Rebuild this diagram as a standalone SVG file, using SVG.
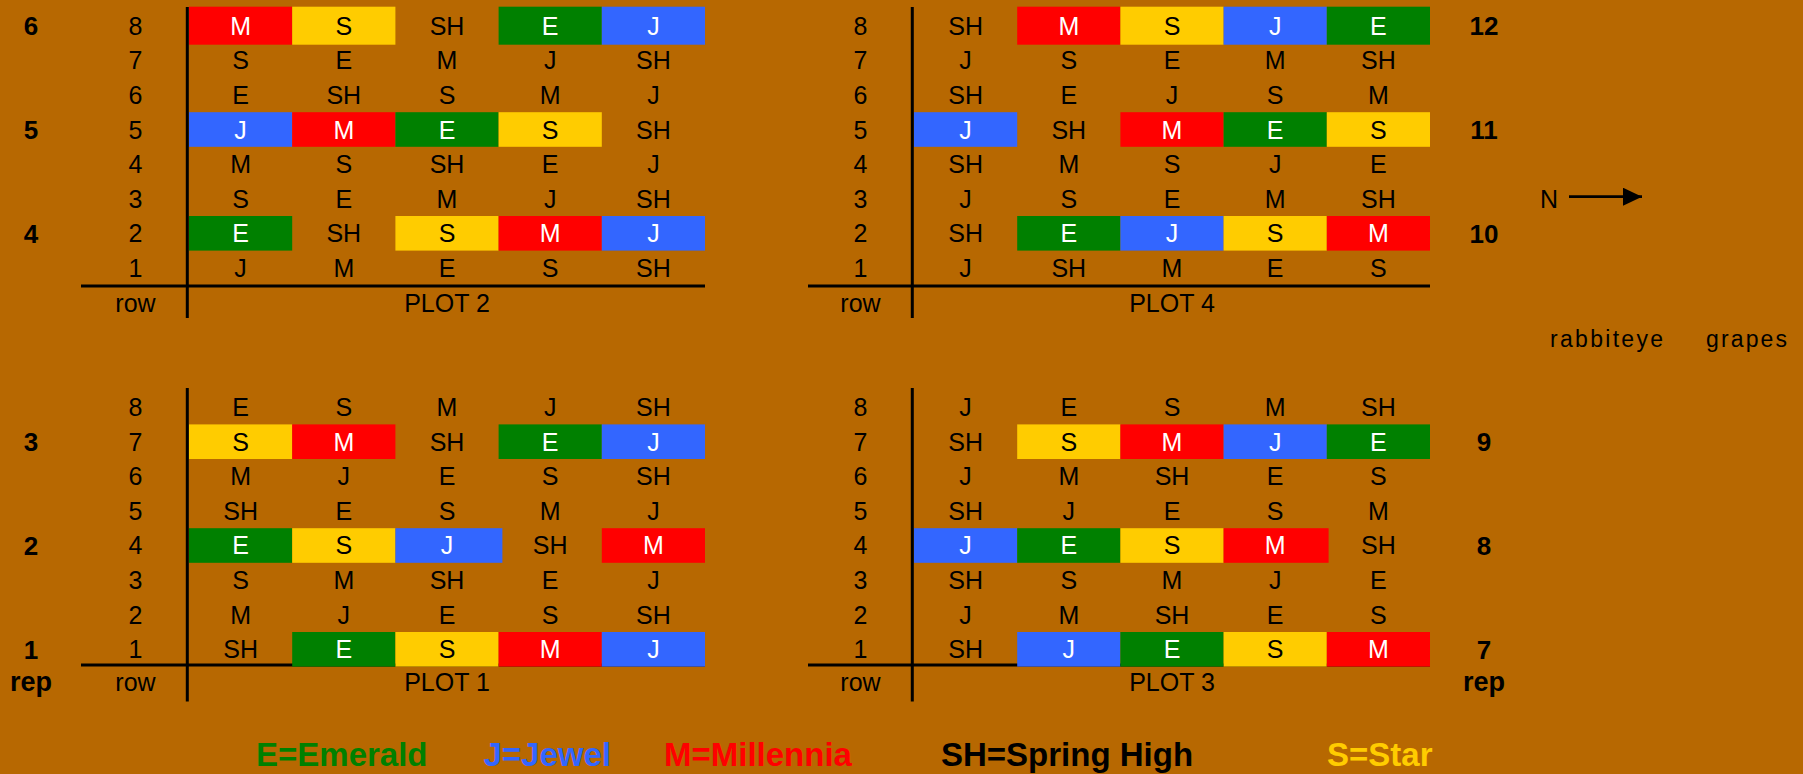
<svg xmlns="http://www.w3.org/2000/svg" width="1803" height="774" viewBox="0 0 1803 774">
<style>
.bg{fill:#B76801}
.ln{stroke:#000;stroke-width:3;fill:none}
.R{fill:#FF0000}.Y{fill:#FFCC00}.G{fill:#008000}.B{fill:#3366FF}
.tx{font-family:"Liberation Sans",Arial,sans-serif;font-size:25px;text-anchor:middle;fill:#000}
.w{fill:#fff}
.bd{font-weight:bold;font-size:26px}
.bd2{font-weight:bold;font-size:27px}
.lg{font-family:"Liberation Sans",Arial,sans-serif;font-size:33px;font-weight:bold}
</style>
<defs>
<marker id="ah" viewBox="0 0 10 10" refX="10" refY="5" markerWidth="19" markerHeight="18" markerUnits="userSpaceOnUse" orient="auto" preserveAspectRatio="none">
<path d="M0,0 L10,5 L0,10 z" fill="#000"/>
</marker>
</defs>
<rect class="bg" x="0" y="0" width="1803" height="774"/>

<g id="plot2">
<line class="ln" x1="187.3" y1="7" x2="187.3" y2="318"/>
<line class="ln" x1="81" y1="286" x2="705" y2="286"/>
<rect class="R" x="189" y="6.7" width="103.2" height="38"/>
<rect class="Y" x="292.2" y="6.7" width="103.2" height="38"/>
<rect class="G" x="498.6" y="6.7" width="103.2" height="38"/>
<rect class="B" x="601.8" y="6.7" width="103.2" height="38"/>
<rect class="B" x="189" y="112.2" width="103.2" height="34.6"/>
<rect class="R" x="292.2" y="112.2" width="103.2" height="34.6"/>
<rect class="G" x="395.4" y="112.2" width="103.2" height="34.6"/>
<rect class="Y" x="498.6" y="112.2" width="103.2" height="34.6"/>
<rect class="G" x="189" y="216" width="103.2" height="34.6"/>
<rect class="Y" x="395.4" y="216" width="103.2" height="34.6"/>
<rect class="R" x="498.6" y="216" width="103.2" height="34.6"/>
<rect class="B" x="601.8" y="216" width="103.2" height="34.6"/>
<g class="tx">
<text x="135.5" y="34.7">8</text><text x="135.5" y="69.3">7</text><text x="135.5" y="103.9">6</text><text x="135.5" y="138.5">5</text><text x="135.5" y="173.1">4</text><text x="135.5" y="207.7">3</text><text x="135.5" y="242.3">2</text><text x="135.5" y="276.9">1</text>
<text x="135.5" y="311.7">row</text><text x="447" y="311.7">PLOT 2</text>
<text class="bd" x="31" y="35">6</text><text class="bd" x="31" y="138.8">5</text><text class="bd" x="31" y="242.6">4</text>
<text class="w" x="240.6" y="34.7">M</text><text x="343.8" y="34.7">S</text><text x="447" y="34.7">SH</text><text class="w" x="550.2" y="34.7">E</text><text class="w" x="653.4" y="34.7">J</text>
<text x="240.6" y="69.3">S</text><text x="343.8" y="69.3">E</text><text x="447" y="69.3">M</text><text x="550.2" y="69.3">J</text><text x="653.4" y="69.3">SH</text>
<text x="240.6" y="103.9">E</text><text x="343.8" y="103.9">SH</text><text x="447" y="103.9">S</text><text x="550.2" y="103.9">M</text><text x="653.4" y="103.9">J</text>
<text class="w" x="240.6" y="138.5">J</text><text class="w" x="343.8" y="138.5">M</text><text class="w" x="447" y="138.5">E</text><text x="550.2" y="138.5">S</text><text x="653.4" y="138.5">SH</text>
<text x="240.6" y="173.1">M</text><text x="343.8" y="173.1">S</text><text x="447" y="173.1">SH</text><text x="550.2" y="173.1">E</text><text x="653.4" y="173.1">J</text>
<text x="240.6" y="207.7">S</text><text x="343.8" y="207.7">E</text><text x="447" y="207.7">M</text><text x="550.2" y="207.7">J</text><text x="653.4" y="207.7">SH</text>
<text class="w" x="240.6" y="242.3">E</text><text x="343.8" y="242.3">SH</text><text x="447" y="242.3">S</text><text class="w" x="550.2" y="242.3">M</text><text class="w" x="653.4" y="242.3">J</text>
<text x="240.6" y="276.9">J</text><text x="343.8" y="276.9">M</text><text x="447" y="276.9">E</text><text x="550.2" y="276.9">S</text><text x="653.4" y="276.9">SH</text>
</g>
</g>

<g id="plot4" transform="translate(725,0)">
<line class="ln" x1="187.3" y1="7" x2="187.3" y2="318"/>
<line class="ln" x1="83" y1="286" x2="705" y2="286"/>
<rect class="R" x="292.2" y="6.7" width="103.2" height="38"/>
<rect class="Y" x="395.4" y="6.7" width="103.2" height="38"/>
<rect class="B" x="498.6" y="6.7" width="103.2" height="38"/>
<rect class="G" x="601.8" y="6.7" width="103.2" height="38"/>
<rect class="B" x="189" y="112.2" width="103.2" height="34.6"/>
<rect class="R" x="395.4" y="112.2" width="103.2" height="34.6"/>
<rect class="G" x="498.6" y="112.2" width="103.2" height="34.6"/>
<rect class="Y" x="601.8" y="112.2" width="103.2" height="34.6"/>
<rect class="G" x="292.2" y="216" width="103.2" height="34.6"/>
<rect class="B" x="395.4" y="216" width="103.2" height="34.6"/>
<rect class="Y" x="498.6" y="216" width="103.2" height="34.6"/>
<rect class="R" x="601.8" y="216" width="103.2" height="34.6"/>
<g class="tx">
<text x="135.5" y="34.7">8</text><text x="135.5" y="69.3">7</text><text x="135.5" y="103.9">6</text><text x="135.5" y="138.5">5</text><text x="135.5" y="173.1">4</text><text x="135.5" y="207.7">3</text><text x="135.5" y="242.3">2</text><text x="135.5" y="276.9">1</text>
<text x="135.5" y="311.7">row</text><text x="447" y="311.7">PLOT 4</text>
<text class="bd" x="759" y="35">12</text><text class="bd" x="759" y="138.8">11</text><text class="bd" x="759" y="242.6">10</text>
<text x="240.6" y="34.7">SH</text><text class="w" x="343.8" y="34.7">M</text><text x="447" y="34.7">S</text><text class="w" x="550.2" y="34.7">J</text><text class="w" x="653.4" y="34.7">E</text>
<text x="240.6" y="69.3">J</text><text x="343.8" y="69.3">S</text><text x="447" y="69.3">E</text><text x="550.2" y="69.3">M</text><text x="653.4" y="69.3">SH</text>
<text x="240.6" y="103.9">SH</text><text x="343.8" y="103.9">E</text><text x="447" y="103.9">J</text><text x="550.2" y="103.9">S</text><text x="653.4" y="103.9">M</text>
<text class="w" x="240.6" y="138.5">J</text><text x="343.8" y="138.5">SH</text><text class="w" x="447" y="138.5">M</text><text class="w" x="550.2" y="138.5">E</text><text x="653.4" y="138.5">S</text>
<text x="240.6" y="173.1">SH</text><text x="343.8" y="173.1">M</text><text x="447" y="173.1">S</text><text x="550.2" y="173.1">J</text><text x="653.4" y="173.1">E</text>
<text x="240.6" y="207.7">J</text><text x="343.8" y="207.7">S</text><text x="447" y="207.7">E</text><text x="550.2" y="207.7">M</text><text x="653.4" y="207.7">SH</text>
<text x="240.6" y="242.3">SH</text><text class="w" x="343.8" y="242.3">E</text><text class="w" x="447" y="242.3">J</text><text x="550.2" y="242.3">S</text><text class="w" x="653.4" y="242.3">M</text>
<text x="240.6" y="276.9">J</text><text x="343.8" y="276.9">SH</text><text x="447" y="276.9">M</text><text x="550.2" y="276.9">E</text><text x="653.4" y="276.9">S</text>
</g>
</g>

<g id="plot1" transform="translate(0,381.4)">
<line class="ln" x1="187.3" y1="6.6" x2="187.3" y2="320.1"/>
<line class="ln" x1="81" y1="283.6" x2="705" y2="283.6"/>
<rect class="Y" x="189" y="43" width="103.2" height="34.6"/>
<rect class="R" x="292.2" y="43" width="103.2" height="34.6"/>
<rect class="G" x="498.6" y="43" width="103.2" height="34.6"/>
<rect class="B" x="601.8" y="43" width="103.2" height="34.6"/>
<rect class="G" x="189" y="146.8" width="103.2" height="34.6"/>
<rect class="Y" x="292.2" y="146.8" width="103.2" height="34.6"/>
<rect class="B" x="395.4" y="146.8" width="107" height="34.6"/>
<rect class="R" x="601.8" y="146.8" width="103.2" height="34.6"/>
<rect class="G" x="292.2" y="250.6" width="103.2" height="34.6"/>
<rect class="Y" x="395.4" y="250.6" width="103.2" height="34.6"/>
<rect class="R" x="498.6" y="250.6" width="103.2" height="34.6"/>
<rect class="B" x="601.8" y="250.6" width="103.2" height="34.6"/>
<g class="tx">
<text x="135.5" y="34.7">8</text><text x="135.5" y="69.3">7</text><text x="135.5" y="103.9">6</text><text x="135.5" y="138.5">5</text><text x="135.5" y="173.1">4</text><text x="135.5" y="207.7">3</text><text x="135.5" y="242.3">2</text><text x="135.5" y="276.9">1</text>
<text x="135.5" y="309.5">row</text><text x="447" y="309.5">PLOT 1</text>
<text class="bd" x="31" y="69.6">3</text><text class="bd" x="31" y="173.4">2</text><text class="bd" x="31" y="277.2">1</text>
<text class="bd2" x="31" y="309.3">rep</text>
<text x="240.6" y="34.7">E</text><text x="343.8" y="34.7">S</text><text x="447" y="34.7">M</text><text x="550.2" y="34.7">J</text><text x="653.4" y="34.7">SH</text>
<text x="240.6" y="69.3">S</text><text class="w" x="343.8" y="69.3">M</text><text x="447" y="69.3">SH</text><text class="w" x="550.2" y="69.3">E</text><text class="w" x="653.4" y="69.3">J</text>
<text x="240.6" y="103.9">M</text><text x="343.8" y="103.9">J</text><text x="447" y="103.9">E</text><text x="550.2" y="103.9">S</text><text x="653.4" y="103.9">SH</text>
<text x="240.6" y="138.5">SH</text><text x="343.8" y="138.5">E</text><text x="447" y="138.5">S</text><text x="550.2" y="138.5">M</text><text x="653.4" y="138.5">J</text>
<text class="w" x="240.6" y="173.1">E</text><text x="343.8" y="173.1">S</text><text class="w" x="447" y="173.1">J</text><text x="550.2" y="173.1">SH</text><text class="w" x="653.4" y="173.1">M</text>
<text x="240.6" y="207.7">S</text><text x="343.8" y="207.7">M</text><text x="447" y="207.7">SH</text><text x="550.2" y="207.7">E</text><text x="653.4" y="207.7">J</text>
<text x="240.6" y="242.3">M</text><text x="343.8" y="242.3">J</text><text x="447" y="242.3">E</text><text x="550.2" y="242.3">S</text><text x="653.4" y="242.3">SH</text>
<text x="240.6" y="276.9">SH</text><text class="w" x="343.8" y="276.9">E</text><text x="447" y="276.9">S</text><text class="w" x="550.2" y="276.9">M</text><text class="w" x="653.4" y="276.9">J</text>
</g>
</g>

<g id="plot3" transform="translate(725,381.4)">
<line class="ln" x1="187.3" y1="6.6" x2="187.3" y2="320.1"/>
<line class="ln" x1="83" y1="283.6" x2="705" y2="283.6"/>
<rect class="Y" x="292.2" y="43" width="103.2" height="34.6"/>
<rect class="R" x="395.4" y="43" width="103.2" height="34.6"/>
<rect class="B" x="498.6" y="43" width="103.2" height="34.6"/>
<rect class="G" x="601.8" y="43" width="103.2" height="34.6"/>
<rect class="B" x="189" y="146.8" width="103.2" height="34.6"/>
<rect class="G" x="292.2" y="146.8" width="103.2" height="34.6"/>
<rect class="Y" x="395.4" y="146.8" width="103.2" height="34.6"/>
<rect class="R" x="498.6" y="146.8" width="105" height="34.6"/>
<rect class="B" x="292.2" y="250.6" width="103.2" height="34.6"/>
<rect class="G" x="395.4" y="250.6" width="103.2" height="34.6"/>
<rect class="Y" x="498.6" y="250.6" width="103.2" height="34.6"/>
<rect class="R" x="601.8" y="250.6" width="103.2" height="34.6"/>
<g class="tx">
<text x="135.5" y="34.7">8</text><text x="135.5" y="69.3">7</text><text x="135.5" y="103.9">6</text><text x="135.5" y="138.5">5</text><text x="135.5" y="173.1">4</text><text x="135.5" y="207.7">3</text><text x="135.5" y="242.3">2</text><text x="135.5" y="276.9">1</text>
<text x="135.5" y="309.5">row</text><text x="447" y="309.5">PLOT 3</text>
<text class="bd" x="759" y="69.6">9</text><text class="bd" x="759" y="173.4">8</text><text class="bd" x="759" y="277.2">7</text>
<text class="bd2" x="759" y="309.3">rep</text>
<text x="240.6" y="34.7">J</text><text x="343.8" y="34.7">E</text><text x="447" y="34.7">S</text><text x="550.2" y="34.7">M</text><text x="653.4" y="34.7">SH</text>
<text x="240.6" y="69.3">SH</text><text x="343.8" y="69.3">S</text><text class="w" x="447" y="69.3">M</text><text class="w" x="550.2" y="69.3">J</text><text class="w" x="653.4" y="69.3">E</text>
<text x="240.6" y="103.9">J</text><text x="343.8" y="103.9">M</text><text x="447" y="103.9">SH</text><text x="550.2" y="103.9">E</text><text x="653.4" y="103.9">S</text>
<text x="240.6" y="138.5">SH</text><text x="343.8" y="138.5">J</text><text x="447" y="138.5">E</text><text x="550.2" y="138.5">S</text><text x="653.4" y="138.5">M</text>
<text class="w" x="240.6" y="173.1">J</text><text class="w" x="343.8" y="173.1">E</text><text x="447" y="173.1">S</text><text class="w" x="550.2" y="173.1">M</text><text x="653.4" y="173.1">SH</text>
<text x="240.6" y="207.7">SH</text><text x="343.8" y="207.7">S</text><text x="447" y="207.7">M</text><text x="550.2" y="207.7">J</text><text x="653.4" y="207.7">E</text>
<text x="240.6" y="242.3">J</text><text x="343.8" y="242.3">M</text><text x="447" y="242.3">SH</text><text x="550.2" y="242.3">E</text><text x="653.4" y="242.3">S</text>
<text x="240.6" y="276.9">SH</text><text class="w" x="343.8" y="276.9">J</text><text class="w" x="447" y="276.9">E</text><text x="550.2" y="276.9">S</text><text class="w" x="653.4" y="276.9">M</text>
</g>
</g>

<g id="north">
<line x1="1569" y1="196.7" x2="1642" y2="196.7" stroke="#000" stroke-width="2.7" marker-end="url(#ah)"/>
<text x="1549" y="207.5" font-family="Liberation Sans, Arial, sans-serif" font-size="25" text-anchor="middle">N</text>
</g>

<g id="title" font-family="Liberation Sans, Arial, sans-serif" font-size="23">
<text x="1550" y="346.5" textLength="113" lengthAdjust="spacing">rabbiteye</text>
<text x="1706" y="346.5" textLength="81" lengthAdjust="spacing">grapes</text>
</g>

<g id="legend" class="lg">
<text x="256" y="766" fill="#008000">E=Emerald</text>
<text x="483.5" y="766" fill="#3366FF">J=Jewel</text>
<text x="664" y="766" fill="#FF0000">M=Millennia</text>
<text x="941" y="766" fill="#000">SH=Spring High</text>
<text x="1327" y="766" fill="#FFCC00">S=Star</text>
</g>
</svg>
